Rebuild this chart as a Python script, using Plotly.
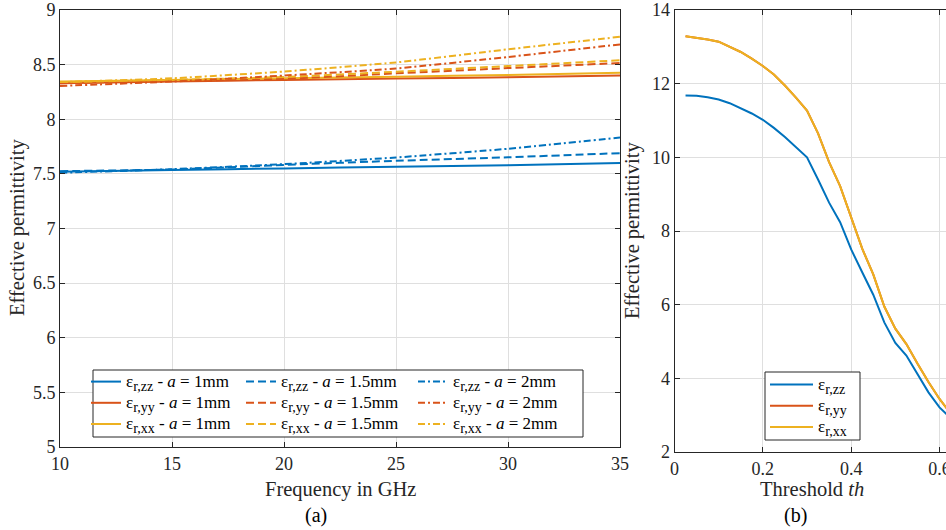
import plotly.graph_objects as go

# ---------------- data: panel (a) ----------------
freq = [10, 15, 20, 25, 30, 35]
zz_1mm = [7.52, 7.535, 7.55, 7.565, 7.58, 7.60]
yy_1mm = [8.33, 8.345, 8.36, 8.372, 8.385, 8.40]
xx_1mm = [8.345, 8.36, 8.375, 8.39, 8.405, 8.425]
zz_15mm = [7.525, 7.54, 7.582, 7.62, 7.652, 7.69]
yy_15mm = [8.33, 8.35, 8.37, 8.42, 8.468, 8.515]
xx_15mm = [8.34, 8.36, 8.387, 8.435, 8.487, 8.54]
zz_2mm = [7.51, 7.543, 7.589, 7.65, 7.73, 7.832]
yy_2mm = [8.305, 8.345, 8.40, 8.465, 8.57, 8.685]
xx_2mm = [8.34, 8.375, 8.437, 8.52, 8.64, 8.755]

# ---------------- data: panel (b) ----------------
th = [0.025, 0.05, 0.075, 0.1, 0.125, 0.15, 0.175, 0.2, 0.225, 0.25, 0.275, 0.3,
      0.325, 0.35, 0.375, 0.4, 0.425, 0.45, 0.475, 0.5, 0.525, 0.55, 0.575, 0.6, 0.625]
th_zz = [11.68, 11.67, 11.63, 11.57, 11.47, 11.34, 11.19, 11.02, 10.80, 10.55, 10.28, 10.00,
         9.40, 8.77, 8.24, 7.50, 6.88, 6.27, 5.52, 4.96, 4.62, 4.12, 3.62, 3.21, 2.92]
th_yy = [13.29, 13.25, 13.20, 13.14, 13.01, 12.86, 12.68, 12.48, 12.25, 11.95, 11.62, 11.27,
         10.65, 9.87, 9.22, 8.37, 7.52, 6.82, 5.95, 5.35, 4.93, 4.40, 3.90, 3.44, 3.05]
th_xx = [13.29, 13.25, 13.20, 13.14, 13.01, 12.86, 12.68, 12.48, 12.25, 11.95, 11.62, 11.27,
         10.65, 9.87, 9.22, 8.37, 7.52, 6.82, 5.95, 5.35, 4.93, 4.40, 3.90, 3.44, 3.05]

C_ZZ, C_YY, C_XX = "#0072BD", "#D95319", "#EDB120"
FONT = "Liberation Serif, Times New Roman, Tinos, serif"
AX = "#262626"
GRID = "#dfdfdf"
DASH = "8px,4px"
DASHDOT = "7px,3px,2px,3px"

W, H = 946, 530
def px(x): return x / W
def py(y): return (H - y) / H

def label(comp, a=None):
    s = 'ε<sub><span style="font-size:14px">' + comp + '</span></sub>'
    if a is not None:
        s += ' - <i>a</i> = ' + a + 'mm'
    return '<span style="font-size:17px">' + s + '</span>'

fig = go.Figure()

series_a = [
    (zz_1mm, C_ZZ, "solid", label("r,zz", "1"), "legend"),
    (yy_1mm, C_YY, "solid", label("r,yy", "1"), "legend"),
    (xx_1mm, C_XX, "solid", label("r,xx", "1"), "legend"),
    (zz_15mm, C_ZZ, DASH, label("r,zz", "1.5"), "legend2"),
    (yy_15mm, C_YY, DASH, label("r,yy", "1.5"), "legend2"),
    (xx_15mm, C_XX, DASH, label("r,xx", "1.5"), "legend2"),
    (zz_2mm, C_ZZ, DASHDOT, label("r,zz", "2"), "legend3"),
    (yy_2mm, C_YY, DASHDOT, label("r,yy", "2"), "legend3"),
    (xx_2mm, C_XX, DASHDOT, label("r,xx", "2"), "legend3"),
]
for ys, c, d, name, lg in series_a:
    fig.add_trace(go.Scatter(x=freq, y=ys, mode="lines", name=name, legend=lg,
                             line=dict(color=c, width=2, dash=d, shape="spline", smoothing=0.5),
                             xaxis="x", yaxis="y"))

for ys, c, name in [(th_zz, C_ZZ, label("r,zz")), (th_yy, C_YY, label("r,yy")),
                    (th_xx, C_XX, label("r,xx"))]:
    fig.add_trace(go.Scatter(x=th, y=ys, mode="lines", name=name, legend="legend4",
                             line=dict(color=c, width=2), xaxis="x2", yaxis="y2"))

axis_common = dict(showgrid=True, gridcolor=GRID, gridwidth=1, zeroline=False, automargin=False,
                   showline=True, linecolor=AX, linewidth=1, ticks="inside", ticklen=5,
                   tickcolor=AX, tickfont=dict(family=FONT, size=18, color=AX))

legend_common = dict(font=dict(family=FONT, size=14, color="#000"), bgcolor="rgba(0,0,0,0)",
                     borderwidth=0, xanchor="left", yanchor="top", tracegroupgap=0,
                     orientation="v")

fig.update_layout(
    width=W, height=H, margin=dict(l=0, r=0, t=0, b=0, autoexpand=False),
    plot_bgcolor="white", paper_bgcolor="white",
    xaxis=dict(domain=[px(60), px(620)], range=[10, 35], dtick=5, mirror="ticks",
               anchor="y", **axis_common),
    yaxis=dict(domain=[py(447), py(10)], range=[5, 9], dtick=0.5, mirror="ticks",
               anchor="x", **axis_common),
    xaxis2=dict(domain=[px(674.5), 1], range=[0, 0.6147], dtick=0.2, mirror="ticks",
                anchor="y2", ticklabeloverflow="allow", **axis_common),
    yaxis2=dict(domain=[py(452), py(10)], range=[2, 14], dtick=2, mirror=False,
                anchor="x2", **axis_common),
    legend=dict(x=px(86), y=py(366), **legend_common),
    legend2=dict(x=px(241), y=py(366), **legend_common),
    legend3=dict(x=px(413), y=py(366), **legend_common),
    legend4=dict(x=px(765), y=py(369), itemwidth=43, **legend_common),
    showlegend=True,
)

fig.add_shape(type="rect", xref="paper", yref="paper",
              x0=px(93), x1=px(583), y0=py(437), y1=py(370),
              line=dict(color=AX, width=1), fillcolor="white", layer="above")
fig.add_shape(type="rect", xref="paper", yref="paper",
              x0=px(765), x1=px(860), y0=py(440), y1=py(372),
              line=dict(color=AX, width=1), fillcolor="white", layer="above")

ann_font = dict(family=FONT, size=20.5, color=AX)
fig.add_annotation(text="Effective permittivity", x=px(17), y=py(228), xref="paper", yref="paper",
                   textangle=-90, showarrow=False, font=ann_font, xanchor="center", yanchor="middle")
fig.add_annotation(text="Effective permittivity", x=px(632), y=py(231), xref="paper", yref="paper",
                   textangle=-90, showarrow=False, font=ann_font, xanchor="center", yanchor="middle")
fig.add_annotation(text="Frequency in GHz", x=px(340), y=py(489), xref="paper", yref="paper",
                   showarrow=False, font=ann_font, xanchor="center", yanchor="middle")
fig.add_annotation(text="Threshold <i>th</i>", x=px(812), y=py(489), xref="paper", yref="paper",
                   showarrow=False, font=ann_font, xanchor="center", yanchor="middle")
fig.add_annotation(text="(a)", x=px(316), y=py(515), xref="paper", yref="paper",
                   showarrow=False, font=dict(family=FONT, size=20, color="#000"),
                   xanchor="center", yanchor="middle")
fig.add_annotation(text="(b)", x=px(795), y=py(515), xref="paper", yref="paper",
                   showarrow=False, font=dict(family=FONT, size=20, color="#000"),
                   xanchor="center", yanchor="middle")

fig.write_html("out.html", config={"displayModeBar": False},
               post_script="document.body.style.margin='0';document.body.style.overflow='hidden';")
